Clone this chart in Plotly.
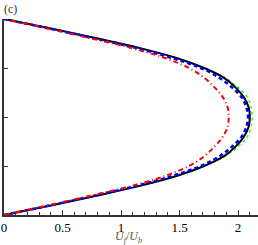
import plotly.graph_objects as go

y_pos = [0, 0.05, 0.1, 0.15, 0.2, 0.25, 0.3, 0.35, 0.4, 0.45, 0.5,
         0.55, 0.6, 0.65, 0.7, 0.75, 0.8, 0.85, 0.9, 0.95, 1.0]

u_black = [0, 0.41, 0.80, 1.17, 1.48, 1.71, 1.88, 1.98, 2.05, 2.09, 2.10,
           2.09, 2.05, 1.98, 1.88, 1.71, 1.48, 1.17, 0.80, 0.41, 0]
u_green = [0, 0.41, 0.80, 1.17, 1.48, 1.71, 1.89, 2.00, 2.08, 2.11, 2.12,
           2.11, 2.08, 2.00, 1.89, 1.71, 1.48, 1.17, 0.80, 0.41, 0]
u_blue = [0, 0.40, 0.78, 1.14, 1.44, 1.68, 1.84, 1.95, 2.03, 2.07, 2.085,
          2.07, 2.03, 1.95, 1.84, 1.68, 1.44, 1.14, 0.78, 0.40, 0]
u_red = [0, 0.38, 0.75, 1.10, 1.38, 1.58, 1.71, 1.80, 1.87, 1.91, 1.92,
         1.91, 1.87, 1.80, 1.71, 1.58, 1.38, 1.10, 0.75, 0.38, 0]

x_ticks = [0, 0.5, 1, 1.5, 2]
x_tick_labels = ["0", "0.5", "1", "1.5", "2"]

fig = go.Figure()
fig.add_trace(go.Scatter(x=u_green, y=y_pos, mode="lines", line_shape="spline",
                         line=dict(color="#33ee33", width=1.5, dash="dot")))
fig.add_trace(go.Scatter(x=u_black, y=y_pos, mode="lines", line_shape="spline",
                         line=dict(color="black", width=2)))
fig.add_trace(go.Scatter(x=u_blue, y=y_pos, mode="lines", line_shape="spline",
                         line=dict(color="#0000ff", width=2.5, dash="4px,3px")))
fig.add_trace(go.Scatter(x=u_red, y=y_pos, mode="lines", line_shape="spline",
                         line=dict(color="#ff0000", width=2, dash="5px,3px,1px,3px")))

serif = "Liberation Serif"
fig.update_layout(
    width=258, height=245,
    margin=dict(l=4, r=0, t=19, b=30),
    paper_bgcolor="white", plot_bgcolor="white",
    showlegend=False,
    font=dict(family=serif, size=13, color="black"),
    xaxis=dict(range=[0, 2.17], showgrid=False, zeroline=False, automargin=False,
               showline=True, linecolor="#333", linewidth=1.5,
               ticks="inside", ticklen=5, tickcolor="#333",
               tickvals=x_ticks, ticktext=x_tick_labels,
               tickfont=dict(family=serif, size=13, color="black"),
               minor=dict(ticks="inside", ticklen=3, dtick=0.1, tickcolor="#333")),
    yaxis=dict(range=[0, 1], showgrid=False, zeroline=False, automargin=False,
               showline=True, linecolor="#333", linewidth=1.5,
               ticks="inside", ticklen=4, tickcolor="#333",
               tickvals=[0.25, 0.5, 0.75], showticklabels=False),
    annotations=[
        dict(text="(c)", x=0, y=1, xref="paper", yref="paper",
             xanchor="left", yanchor="bottom", xshift=-2, yshift=1,
             showarrow=False, font=dict(family=serif, size=12, color="#333")),
        dict(text="<i>U<sub>f</sub></i>/<i>U<sub>b</sub></i>", x=0.49, y=0,
             xref="paper", yref="paper", xanchor="center", yanchor="top",
             yshift=-12, showarrow=False,
             font=dict(family=serif, size=12, color="#555")),
    ],
)

fig.write_html("out.html", config={"displayModeBar": False},
               post_script="document.body.style.margin='0';document.body.style.padding='0';")
